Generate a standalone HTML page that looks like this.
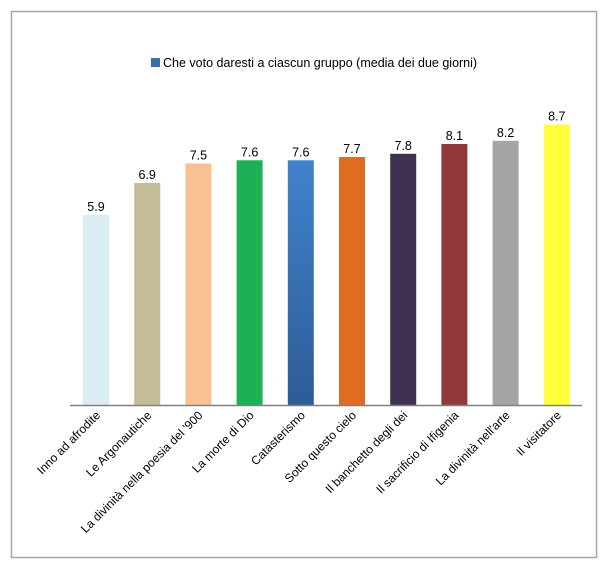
<!DOCTYPE html>
<html><head><meta charset="utf-8"><style>
html,body{margin:0;padding:0;background:#fff;}
svg{display:block;font-family:"Liberation Sans",sans-serif;}
</style></head><body>
<svg width="609" height="573" viewBox="0 0 609 573" xmlns="http://www.w3.org/2000/svg">
<defs>
<linearGradient id="bl" x1="0" y1="0" x2="0" y2="1"><stop offset="0" stop-color="#4182cc"/><stop offset="1" stop-color="#2d5c96"/></linearGradient>
</defs>
<rect x="11.5" y="11.5" width="585" height="546" fill="#fff" stroke="#a6a6a6" stroke-width="1.5"/>
<rect x="151" y="58" width="9" height="9" fill="#3b6eae"/>
<text x="163" y="67" font-size="12.5" fill="#000">Che voto daresti a ciascun gruppo (media dei due giorni)</text>
<g font-size="12.5" fill="#000" text-anchor="middle">
<rect x="83" y="215" width="26" height="190.5" fill="#daedf3"/><text x="96" y="211">5.9</text>
<rect x="134.2" y="183" width="26" height="222.5" fill="#c4bd97"/><text x="147.2" y="179">6.9</text>
<rect x="185.4" y="163.5" width="26" height="242" fill="#f9c092"/><text x="198.4" y="159.5">7.5</text>
<rect x="236.6" y="160.3" width="26" height="245.2" fill="#1db054"/><text x="249.6" y="156.3">7.6</text>
<rect x="287.8" y="160.3" width="26" height="245.2" fill="url(#bl)"/><text x="300.8" y="156.3">7.6</text>
<rect x="339" y="157" width="26" height="248.5" fill="#e06c22"/><text x="352" y="153">7.7</text>
<rect x="390.2" y="153.8" width="26" height="251.7" fill="#3f3151"/><text x="403.2" y="149.8">7.8</text>
<rect x="441.4" y="144" width="26" height="261.5" fill="#93373a"/><text x="454.4" y="140">8.1</text>
<rect x="492.6" y="140.8" width="26" height="264.7" fill="#a5a5a5"/><text x="505.6" y="136.8">8.2</text>
<rect x="543.8" y="124.5" width="26" height="281" fill="#ffff3b"/><text x="556.8" y="120.5">8.7</text>
</g>
<line x1="70" y1="405.5" x2="582" y2="405.5" stroke="#808080" stroke-width="1.5"/>
<g font-size="12" fill="#000" text-anchor="end">
<text transform="translate(101,416) rotate(-45)">Inno ad afrodite</text>
<text transform="translate(152.2,416) rotate(-45)">Le Argonautiche</text>
<text transform="translate(203.4,416) rotate(-45)">La divinità nella poesia del '900</text>
<text transform="translate(254.6,416) rotate(-45)">La morte di Dio</text>
<text transform="translate(305.8,416) rotate(-45)">Catasterismo</text>
<text transform="translate(357,416) rotate(-45)">Sotto questo cielo</text>
<text transform="translate(408.2,416) rotate(-45)">Il banchetto degli dei</text>
<text transform="translate(459.4,416) rotate(-45)">Il sacrificio di Ifigenia</text>
<text transform="translate(510.6,416) rotate(-45)">La divinità nell'arte</text>
<text transform="translate(561.8,416) rotate(-45)">Il visitatore</text>
</g>
</svg>
</body></html>
